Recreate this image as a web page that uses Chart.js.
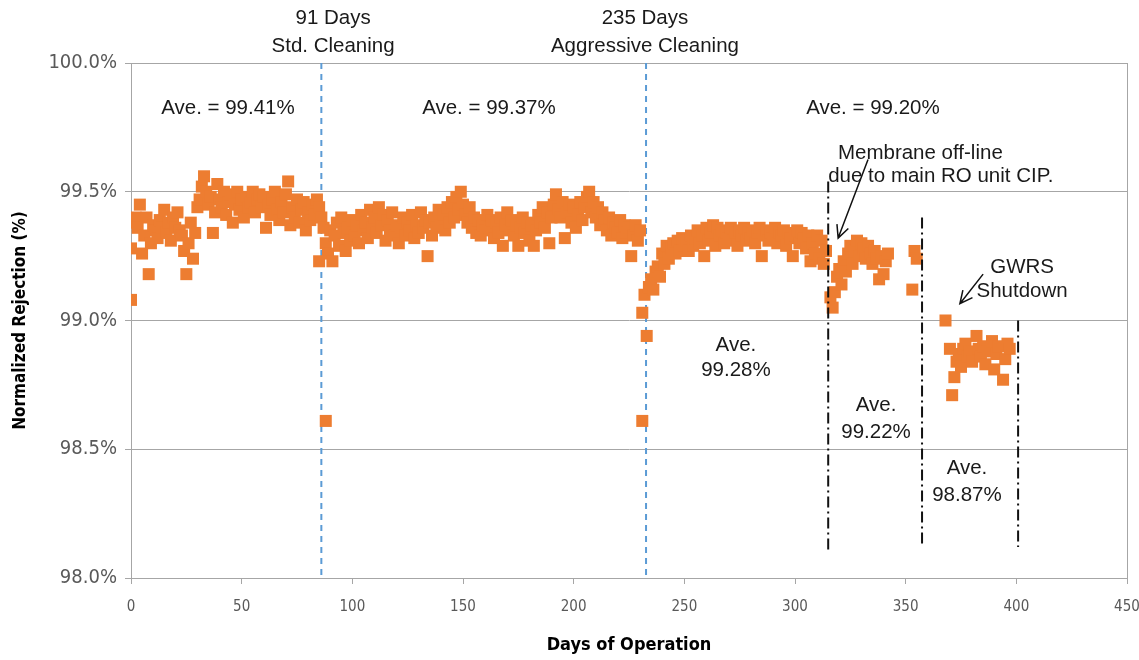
<!DOCTYPE html>
<html>
<head>
<meta charset="utf-8">
<script src="https://cdn.jsdelivr.net/npm/chart.js@4.4.1/dist/chart.umd.min.js"></script>
<style>
  html, body { margin: 0; padding: 0; background: #fff; }
  #wrap { width: 1139px; height: 660px; }
</style>
</head>
<body>
<div id="wrap"><canvas id="chart" width="1139" height="660"></canvas></div>
<script>
// daily readings, first day given by the start value
const seg1Start = 0;
const seg1Values = [
  99.28, 99.38, 99.40, 99.36, 99.45, 99.26, 99.33, 99.40, 99.18, 99.30,
  99.37, 99.35, 99.32, 99.39, 99.36, 99.43, 99.34, 99.38, 99.31, 99.40,
  99.36, 99.42, 99.35, 99.33, 99.27, 99.18, 99.30, 99.38, 99.24, 99.34,
  99.44, 99.47, 99.52, 99.56, 99.50, 99.45, 99.48, 99.34, 99.42, 99.53,
  99.47, 99.44, 99.50, 99.41, 99.46, 99.49, 99.38, 99.45, 99.50, 99.43,
  99.47, 99.40, 99.48, 99.44, 99.46, 99.50, 99.42, 99.47, 99.49, 99.44,
  99.48, 99.36, 99.45, 99.41, 99.47, 99.50, 99.43, 99.39, 99.46, 99.42,
  99.49, 99.54, 99.37, 99.44, 99.40, 99.47, 99.38, 99.43, 99.46, 99.35,
  99.42, 99.39, 99.45, 99.41, 99.47, 99.44, 99.40, 99.36
];
const seg2Start = 88;
const seg2Values = [
  99.30, 99.26, 99.35, 99.23, 99.33, 99.38, 99.29, 99.40, 99.34, 99.27,
  99.36, 99.31, 99.39, 99.33, 99.37, 99.30, 99.41, 99.35, 99.38, 99.32,
  99.43, 99.36, 99.40, 99.34, 99.44, 99.37, 99.41, 99.31, 99.39, 99.35,
  99.42, 99.33, 99.37, 99.30, 99.36, 99.40, 99.33, 99.38, 99.35, 99.41,
  99.32, 99.37, 99.34, 99.42, 99.36, 99.39, 99.25, 99.38, 99.33, 99.40,
  99.36, 99.43, 99.37, 99.41, 99.35, 99.44, 99.38, 99.46, 99.40, 99.48,
  99.43, 99.50, 99.45, 99.41, 99.38, 99.44, 99.36, 99.40, 99.34, 99.39,
  99.33, 99.37, 99.35, 99.41, 99.36, 99.39, 99.32, 99.38, 99.34, 99.40,
  99.29, 99.37, 99.42, 99.35, 99.39, 99.33, 99.37, 99.29, 99.36, 99.40,
  99.34, 99.38, 99.31, 99.37, 99.29, 99.35, 99.41, 99.38, 99.44, 99.36,
  99.42, 99.30, 99.40, 99.45, 99.49, 99.43, 99.40, 99.46, 99.32, 99.42,
  99.45, 99.38, 99.44, 99.36, 99.41, 99.46, 99.39, 99.44, 99.48, 99.50,
  99.42, 99.46, 99.40, 99.44, 99.37, 99.42, 99.39, 99.35, 99.40, 99.33,
  99.38, 99.36, 99.34, 99.39, 99.32, 99.37, 99.34, 99.36, 99.25, 99.33,
  99.37, 99.31, 99.35
];
const seg3Start = 231;
const seg3Values = [
  99.03, 99.10, 98.94, 99.13, 99.16, 99.12, 99.19, 99.21, 99.17, 99.26,
  99.22, 99.29, 99.24, 99.28, 99.30, 99.26, 99.31, 99.27, 99.32, 99.29,
  99.31, 99.27, 99.33, 99.29, 99.32, 99.35, 99.30, 99.33, 99.25, 99.36,
  99.31, 99.34, 99.37, 99.29, 99.36, 99.33, 99.35, 99.30, 99.34, 99.32,
  99.36, 99.31, 99.34, 99.29, 99.35, 99.33, 99.36, 99.31, 99.34, 99.32,
  99.35, 99.30, 99.34, 99.36, 99.25, 99.33, 99.35, 99.31, 99.34, 99.32,
  99.36, 99.30, 99.34, 99.33, 99.35, 99.29, 99.34, 99.32, 99.25, 99.33,
  99.35, 99.30, 99.34, 99.32, 99.28, 99.33, 99.23, 99.30, 99.26, 99.33,
  99.24, 99.31, 99.22, 99.27
];
const seg4Days = [316, 317, 318, 319, 320, 321, 322, 323, 324, 325, 326, 327, 328, 329,
  330, 331, 332, 333, 334, 335, 336, 337, 338, 339, 340, 341, 342, 353, 354, 355];
const seg4Values = [99.09, 99.05, 99.11, 99.17, 99.20, 99.14, 99.23, 99.19, 99.26, 99.29,
  99.22, 99.27, 99.31, 99.25, 99.30, 99.28, 99.24, 99.29, 99.26, 99.22, 99.27, 99.24,
  99.16, 99.25, 99.18, 99.23, 99.26, 99.12, 99.27, 99.24];
const seg5Days = [368, 370, 371, 372, 373, 374, 375, 376, 377, 378, 379, 380, 382, 383,
  384, 385, 386, 387, 389, 390, 391, 392, 394, 395, 396, 397];
const seg5Values = [99.00, 98.89, 98.71, 98.78, 98.84, 98.87, 98.82, 98.89, 98.91, 98.86,
  98.88, 98.84, 98.94, 98.89, 98.86, 98.90, 98.83, 98.88, 98.92, 98.81, 98.87, 98.90,
  98.77, 98.85, 98.91, 98.89];
const extraDays = [0, 85, 88, 231];
const extraValues = [99.08, 99.23, 98.61, 98.61];

const xTicks = [0, 50, 100, 150, 200, 250, 300, 350, 400, 450];
const yTicks = [98.0, 98.5, 99.0, 99.5, 100.0];

// cleaning events (blue dashed) and period breaks (black dash-dot)
const cleaningDays = [86, 232.7];
const breakLines = [
  { day: 315, from: 98.10, to: 99.54 },
  { day: 357.4, from: 98.12, to: 99.40 },
  { day: 400.8, from: 98.12, to: 99.00 }
];

const labels = [
  { text: '91 Days', day: 91.3, val: 100.175, align: 'center' },
  { text: 'Std. Cleaning', day: 91.3, val: 100.066, align: 'center' },
  { text: '235 Days', day: 232.2, val: 100.175, align: 'center' },
  { text: 'Aggressive Cleaning', day: 232.2, val: 100.066, align: 'center' },
  { text: 'Ave. = 99.41%', day: 43.8, val: 99.825, align: 'center' },
  { text: 'Ave. = 99.37%', day: 161.7, val: 99.825, align: 'center' },
  { text: 'Ave. = 99.20%', day: 335.2, val: 99.825, align: 'center' },
  { text: 'Membrane off-line', day: 319.4, val: 99.650, align: 'left' },
  { text: 'due to main RO unit CIP.', day: 315, val: 99.561, align: 'left' },
  { text: 'GWRS', day: 402.6, val: 99.205, align: 'center' },
  { text: 'Shutdown', day: 402.6, val: 99.115, align: 'center' },
  { text: 'Ave.', day: 273.3, val: 98.905, align: 'center' },
  { text: '99.28%', day: 273.3, val: 98.808, align: 'center' },
  { text: 'Ave.', day: 336.6, val: 98.672, align: 'center' },
  { text: '99.22%', day: 336.6, val: 98.567, align: 'center' },
  { text: 'Ave.', day: 377.7, val: 98.427, align: 'center' },
  { text: '98.87%', day: 377.7, val: 98.322, align: 'center' }
];
const arrows = [
  { x1: 333, y1: 99.625, x2: 319.5, y2: 99.32 },
  { x1: 385, y1: 99.18, x2: 374.5, y2: 99.065 }
];

const points = [];
seg1Values.forEach((v, i) => points.push({ x: seg1Start + i, y: v }));
seg2Values.forEach((v, i) => points.push({ x: seg2Start + i, y: v }));
seg3Values.forEach((v, i) => points.push({ x: seg3Start + i, y: v }));
seg4Days.forEach((d, i) => points.push({ x: d, y: seg4Values[i] }));
seg5Days.forEach((d, i) => points.push({ x: d, y: seg5Values[i] }));
extraDays.forEach((d, i) => points.push({ x: d, y: extraValues[i] }));

const GRID = '#A6A6A6';
const TEXT_FONT = '20.5px "Liberation Sans", Arial, sans-serif';
const AXIS_FAMILY = '"DejaVu Sans Condensed", "Liberation Sans Narrow", sans-serif';

const overlayPlugin = {
  id: 'overlay',
  beforeDatasetsDraw(chart) {
    const { ctx, chartArea, scales: { x, y } } = chart;
    ctx.save();
    ctx.strokeStyle = GRID;
    ctx.lineWidth = 1;
    ctx.strokeRect(chartArea.left + 0.5, chartArea.top + 0.5,
      chartArea.right - chartArea.left, chartArea.bottom - chartArea.top);

    ctx.strokeStyle = '#5B9BD5';
    ctx.lineWidth = 2;
    ctx.setLineDash([6, 5]);
    cleaningDays.forEach(d => {
      const px = x.getPixelForValue(d);
      ctx.beginPath();
      ctx.moveTo(px, chartArea.top);
      ctx.lineTo(px, chartArea.bottom);
      ctx.stroke();
    });
    ctx.restore();
  },
  afterDatasetsDraw(chart) {
    const { ctx, scales: { x, y } } = chart;
    ctx.save();
    ctx.strokeStyle = '#111';
    ctx.lineWidth = 2;
    ctx.setLineDash([11, 4, 2, 4]);
    breakLines.forEach(b => {
      const px = x.getPixelForValue(b.day);
      ctx.beginPath();
      ctx.moveTo(px, y.getPixelForValue(b.to));
      ctx.lineTo(px, y.getPixelForValue(b.from));
      ctx.stroke();
    });
    ctx.setLineDash([]);

    ctx.lineWidth = 1.5;
    arrows.forEach(a => {
      const x1 = x.getPixelForValue(a.x1), y1 = y.getPixelForValue(a.y1);
      const x2 = x.getPixelForValue(a.x2), y2 = y.getPixelForValue(a.y2);
      const ang = Math.atan2(y2 - y1, x2 - x1);
      ctx.beginPath();
      ctx.moveTo(x1, y1);
      ctx.lineTo(x2, y2);
      ctx.moveTo(x2 - 14 * Math.cos(ang - 0.45), y2 - 14 * Math.sin(ang - 0.45));
      ctx.lineTo(x2, y2);
      ctx.lineTo(x2 - 14 * Math.cos(ang + 0.45), y2 - 14 * Math.sin(ang + 0.45));
      ctx.stroke();
    });

    ctx.fillStyle = '#1a1a1a';
    ctx.font = TEXT_FONT;
    ctx.textBaseline = 'middle';
    labels.forEach(l => {
      ctx.textAlign = l.align;
      ctx.fillText(l.text, x.getPixelForValue(l.day), y.getPixelForValue(l.val));
    });
    ctx.restore();
  }
};

new Chart(document.getElementById('chart'), {
  type: 'scatter',
  data: {
    datasets: [{
      data: points,
      pointStyle: 'rect',
      pointRadius: 8.5,
      pointHoverRadius: 8.5,
      backgroundColor: '#ED7D31',
      borderColor: '#ED7D31',
      borderWidth: 0
    }]
  },
  options: {
    responsive: false,
    animation: false,
    events: [],
    layout: { padding: { top: 63, right: 0, left: 0, bottom: 0 } },
    plugins: { legend: { display: false }, tooltip: { enabled: false } },
    scales: {
      x: {
        type: 'linear',
        min: 0,
        max: 450,
        afterBuildTicks: s => { s.ticks = xTicks.map(v => ({ value: v })); },
        afterFit: s => { s.height = 82; s.paddingRight = 12; s.paddingLeft = 0; },
        ticks: { color: '#595959', font: { size: 15, family: AXIS_FAMILY }, padding: 14, maxRotation: 0 },
        grid: { drawOnChartArea: false, color: GRID, tickLength: 6 },
        border: { color: GRID },
        title: {
          display: true, text: 'Days of Operation', color: '#000',
          font: { size: 18, weight: 'bold', family: AXIS_FAMILY },
          padding: { top: 0, bottom: 4 }
        }
      },
      y: {
        min: 98,
        max: 100,
        afterBuildTicks: s => { s.ticks = yTicks.map(v => ({ value: v })); },
        afterFit: s => { s.width = 131; },
        ticks: {
          color: '#595959', padding: 8,
          font: { size: 20, family: AXIS_FAMILY },
          callback: v => v.toFixed(1) + '%'
        },
        grid: { color: GRID, tickLength: 6 },
        border: { color: GRID },
        title: {
          display: true, text: 'Normalized Rejection (%)', color: '#000',
          font: { size: 17, weight: 'bold', family: AXIS_FAMILY },
          padding: { top: 10, bottom: 6 }
        }
      }
    }
  },
  plugins: [overlayPlugin]
});
</script>
</body>
</html>
